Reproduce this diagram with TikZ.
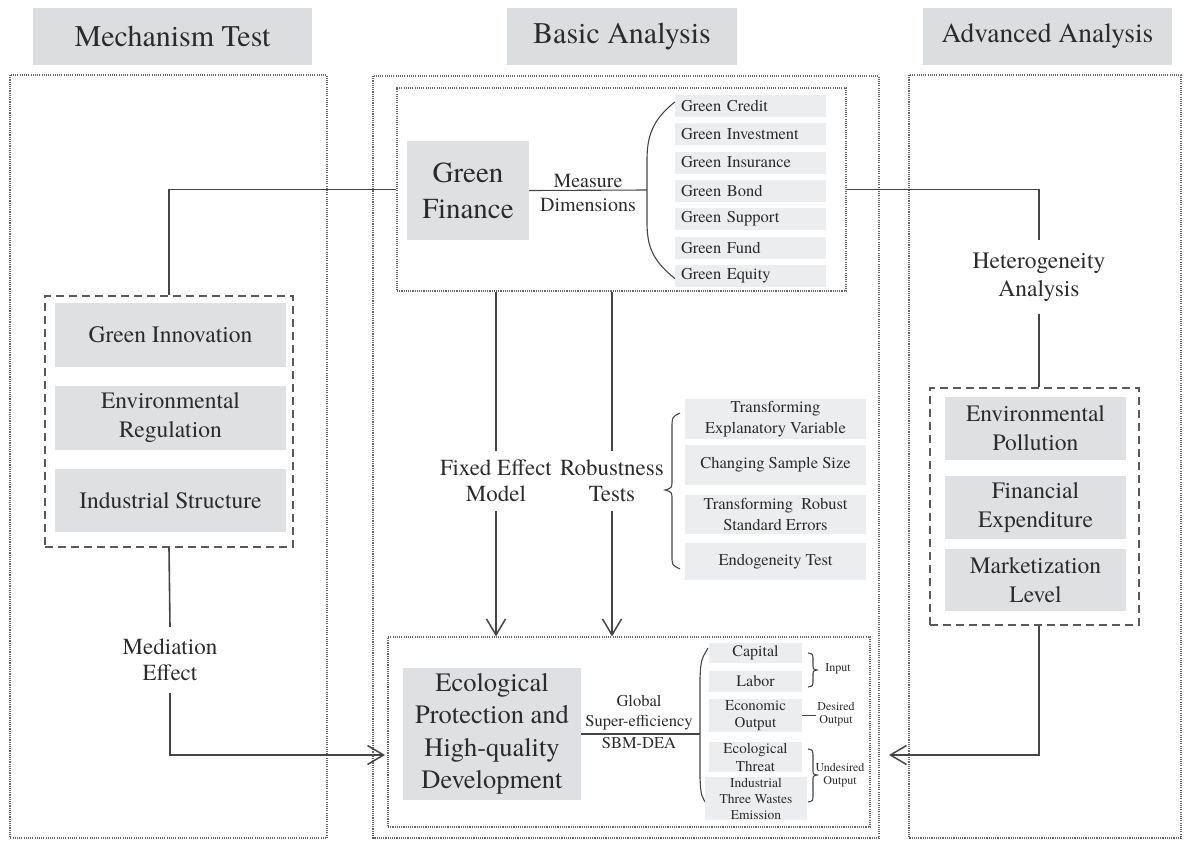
\documentclass[tikz,border=0pt]{standalone}
\usepackage{fontspec}
\setmainfont{texgyretermes-regular.otf}
\usetikzlibrary{arrows.meta}
\definecolor{headgray}{HTML}{DCDDDF}
\definecolor{boxgray}{HTML}{DFE0E1}
\definecolor{itemgray}{HTML}{ECEDEE}
\definecolor{linegray}{HTML}{454545}
\definecolor{txtgray}{HTML}{2B2B2B}
\newcommand{\fsz}[2]{\fontsize{#1}{#2}\selectfont}
\begin{document}
\begin{tikzpicture}[x=1pt,y=-1pt,
    every node/.style={inner sep=0pt, text=txtgray, align=center},
    head/.style={fill=headgray, minimum height=57pt},
    panel/.style={draw=gray!80!black, line width=1.1pt, dash pattern=on 1.1pt off 1.1pt},
    dbox/.style={draw=gray!70!black, line width=1.2pt, dash pattern=on 8pt off 5pt},
    bigbox/.style={fill=boxgray},
    item/.style={fill=itemgray},
    conn/.style={draw=linegray, line width=1.6pt},
    thin/.style={draw=linegray, line width=1.1pt},
    arr/.style={conn, -{Straight Barb[length=16pt, width=19pt, line width=1.5pt]}}]
\useasboundingbox (0,0) rectangle (1187,841);

\node[head, minimum width=279pt, font=\fsz{30}{36}] (hmech) at (172.5,36.5) {Mechanism Test};
\node[head, minimum width=230pt, font=\fsz{30}{36}] (hbasic) at (622,36.5) {Basic Analysis};
\node[head, minimum width=249pt, font=\fsz{27.5}{33}] (hadv) at (1047.5,36.5) {Advanced Analysis};

\draw[panel] (10,75) rectangle (327,838);
\draw[panel] (373,76) rectangle (879,838);
\draw[panel] (909,75) rectangle (1181,838);

% green finance block
\node[panel, minimum width=449pt, minimum height=203pt] (gfpanel) at (621.5,189.5) {};
\node[bigbox, minimum width=122pt, minimum height=99pt, font=\fsz{29}{36}] (gf) at (468,190.5) {Green\\Finance};
\node[anchor=base, font=\fsz{20}{24}] (meas) at (588,187) {Measure};
\node[anchor=base, font=\fsz{20}{24}] (dims) at (588,211) {Dimensions};
\coordinate (gfb) at (647,190);
\draw[thin] (gf.east) -- (gfb);
\tikzset{gfitem/.style={item, minimum height=22pt, text width=139pt, inner xsep=6pt, align=left, font=\fsz{16.5}{20}}}
\node[gfitem] (gf0) at (750.5,106) {Green Credit};
\node[gfitem] (gf1) at (750.5,134) {Green Investment};
\node[gfitem] (gf2) at (750.5,162.5) {Green Insurance};
\node[gfitem] (gf3) at (750.5,191) {Green Bond};
\node[gfitem] (gf4) at (750.5,219) {Green Support};
\node[gfitem] (gf5) at (750.5,247.5) {Green Fund};
\node[gfitem] (gf6) at (750.5,275.5) {Green Equity};
\draw[thin] ([yshift=4pt]gf0.west) .. controls (652,120) and (647,137) .. (647,160) -- (647,222)
    .. controls (647,246) and (652,260) .. ([yshift=-3pt]gf6.west);

% robustness
\node[font=\fsz{23}{26}, inner ysep=9pt] (fe) at (496,481) {Fixed Effect\\Model};
\node[font=\fsz{23}{26}, inner ysep=9pt] (rob) at (612,481) {Robustness\\Tests};
\draw[conn] (fe |- gfpanel.south) -- (fe.north);
\draw[conn] (rob |- gfpanel.south) -- (rob.north);
\tikzset{robitem/.style={item, minimum width=181pt, font=\fsz{16.5}{20.5}}}
\node[robitem, minimum height=40pt] (r0) at (775.5,419) {Transforming\\Explanatory Variable};
\node[robitem, minimum height=40pt] (r1) at (775.5,465) {Changing Sample Size};
\node[robitem, minimum height=39pt] (r2) at (775.5,514.5) {Transforming\ \ Robust\\Standard Errors};
\node[robitem, minimum height=37pt] (r3) at (775.5,561.5) {Endogeneity Test};
\draw[thin] (680,413) .. controls (672,417) .. (672,428) -- (672,480) .. controls (672,488) .. (665,490)
    .. controls (672,492) .. (672,500) -- (672,556) .. controls (672,565) .. (680,569);

% ecological block
\node[panel, minimum width=482pt, minimum height=190pt] (ecopanel) at (629,732) {};
\draw[arr] (fe.south) -- (fe |- ecopanel.north);
\draw[arr] (rob.south) -- (rob |- ecopanel.north);
\node[bigbox, minimum width=178pt, minimum height=132pt, font=\fsz{26.5}{32.5}] (eco) at (492,734) {Ecological\\Protection and\\High-quality\\Development};
\coordinate (ecb) at (700,734);
\draw[thin] (eco.east) -- (ecb);
\node[anchor=south, font=\fsz{16.5}{20}, inner ysep=1pt] (glob) at (639,731) {Global\\Super-efficiency};
\node[anchor=north, font=\fsz{16.5}{20}, inner ysep=3pt] (sbm) at (639,734) {SBM-DEA};
\draw[thin] (708,648) .. controls (701,660) .. (700,678) -- (700,778) .. controls (701,796) .. (708,806);
\node[item, minimum width=93pt, minimum height=20pt, font=\fsz{16}{19}] (cap) at (755.5,653) {Capital};
\node[item, minimum width=93pt, minimum height=21pt, font=\fsz{16}{19}] (lab) at (755.5,681.5) {Labor};
\node[item, minimum width=93pt, minimum height=33pt, font=\fsz{15}{17}] (econ) at (755.5,715.5) {Economic\\Output};
\node[item, minimum width=93pt, minimum height=30pt, font=\fsz{15}{18}] (ecot) at (755.5,757) {Ecological\\Threat};
\node[item, minimum width=102pt, minimum height=43pt, font=\fsz{13.5}{16}] (ind) at (756,798.5) {Industrial\\Three Wastes\\Emission};
\draw[thin] (808,653) .. controls (813,654) .. (813,661) -- (813,666) .. controls (813,669) .. (817,670)
    .. controls (813,671) .. (813,675) -- (813,680) .. controls (813,686) .. (808,687);
\node[font=\fsz{12}{13}] (inp) at (838,669) {Input};
\draw[thin] (econ.east) -- ++(14,0);
\node[font=\fsz{12}{13}] (des) at (836,714) {Desired\\Output};
\draw[thin] (808,749) .. controls (813,750) .. (813,758) -- (813,770) .. controls (813,774) .. (817,775)
    .. controls (813,776) .. (813,780) -- (813,794) .. controls (813,801) .. (808,802);
\node[font=\fsz{12}{13}] (undes) at (840,775) {Undesired\\Output};

% mechanism side
\node[dbox, minimum width=248pt, minimum height=251pt] (mechbox) at (169,421.5) {};
\tikzset{mechitem/.style={bigbox, minimum width=231pt, minimum height=64pt, font=\fsz{23.5}{29}}}
\node[mechitem] (inno) at (170.5,335) {Green Innovation};
\node[mechitem] (reg) at (170.5,418) {Environmental\\Regulation};
\node[mechitem, minimum height=63pt] (struc) at (170.5,500.5) {Industrial Structure};
\draw[conn] (mechbox.north) |- (gfpanel.west);
\node[font=\fsz{23}{26}, inner ysep=12pt] (med) at (170,660) {Mediation\\Effect};
\draw[conn] (mechbox.south) -- (med.north);
\coordinate (inL) at (385,755);
\draw[arr] (med.south) |- (inL);

% heterogeneity side
\node[font=\fsz{23.5}{28}, inner ysep=12pt] (het) at (1039,277) {Heterogeneity\\Analysis};
\draw[conn] (gfpanel.east) -| (het.north);
\node[dbox, minimum width=209pt, minimum height=237pt] (advbox) at (1034.5,506.5) {};
\tikzset{advitem/.style={bigbox, minimum width=181pt, minimum height=63pt, font=\fsz{23.5}{29}}}
\node[advitem] (poll) at (1035.5,428.5) {Environmental\\Pollution};
\node[advitem] (fin) at (1035.5,507.5) {Financial\\Expenditure};
\node[advitem, minimum height=62pt] (mkt) at (1035.5,580) {Marketization\\Level};
\draw[conn] (het.south) -- (het.south |- advbox.north);
\coordinate (inR) at (889,755);
\draw[arr] (het.south |- advbox.south) |- (inR);
\end{tikzpicture}
\end{document}
